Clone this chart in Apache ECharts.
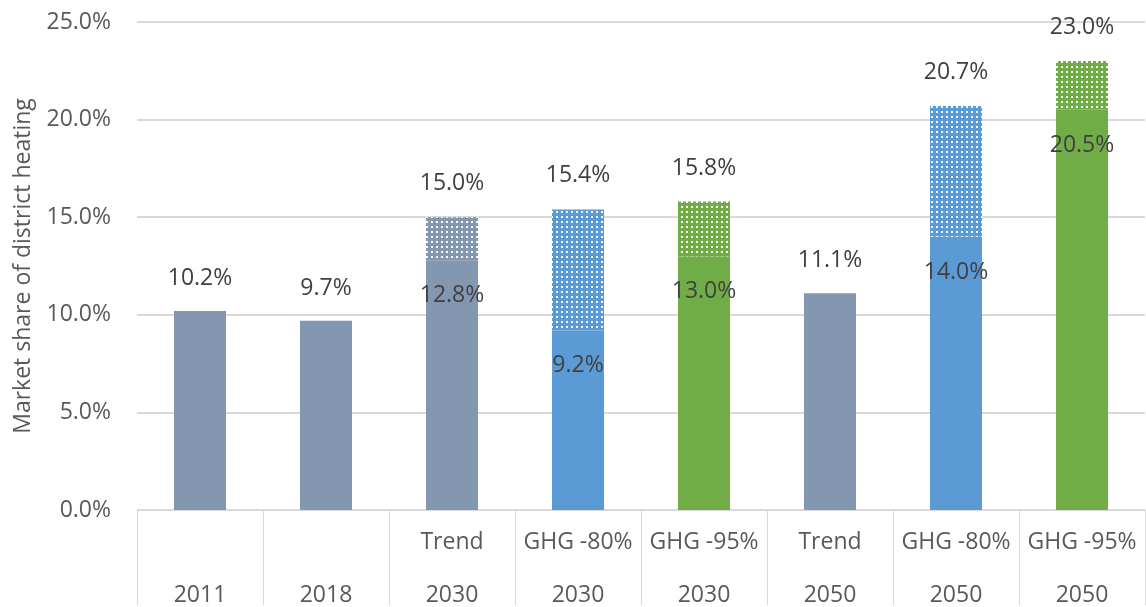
<!DOCTYPE html>
<html><head><meta charset="utf-8">
<script src="https://cdn.jsdelivr.net/npm/echarts@6/dist/echarts.min.js"></script>
<style>html,body{margin:0;padding:0;background:#fff}#c{width:1146px;height:607px}</style>
</head><body><div id="c"></div>
<script>
const scenarios = ['', '', 'Trend', 'GHG -80%', 'GHG -95%', 'Trend', 'GHG -80%', 'GHG -95%'];
const years = ['2011', '2018', '2030', '2030', '2030', '2050', '2050', '2050'];
const baseValues = [10.2, 9.7, 12.8, 9.2, 13.0, 11.1, 14.0, 20.5];
const totalValues = [10.2, 9.7, 15.0, 15.4, 15.8, 11.1, 20.7, 23.0];
const yTicks = [0, 5, 10, 15, 20, 25];

const palette = { '': '#8497B0', 'Trend': '#8497B0', 'GHG -80%': '#5B9BD5', 'GHG -95%': '#70AD47' };
function dotted(color) {
  const c = document.createElement('canvas');
  c.width = 5; c.height = 5;
  const g = c.getContext('2d');
  g.fillStyle = color; g.fillRect(0, 0, 5, 5);
  g.fillStyle = 'rgba(255,255,255,0.95)'; g.fillRect(1, 1, 2, 2);
  return { image: c, repeat: 'repeat' };
}
const FONT = '"Open Sans", sans-serif';
const FS = 23;
const labelStyle = { color: '#404040', fontSize: FS, fontFamily: FONT };
const fmt = v => v.toFixed(1) + '%';

const baseData = baseValues.map((v, i) => {
  const stacked = totalValues[i] > v;
  return {
    value: v,
    itemStyle: { color: palette[scenarios[i]] },
    label: Object.assign({ show: true, position: stacked ? 'insideTop' : 'top', distance: stacked ? 24 : 21, formatter: () => fmt(v) }, labelStyle)
  };
});
const topData = totalValues.map((t, i) => {
  const d = t - baseValues[i];
  if (d <= 0) return { value: '-' };
  return {
    value: d,
    itemStyle: { color: dotted(palette[scenarios[i]]) },
    label: Object.assign({ show: true, position: 'top', distance: 22, formatter: () => fmt(t) }, labelStyle)
  };
});

const chart = echarts.init(document.getElementById('c'), null, { renderer: 'canvas' });
chart.setOption({
  animation: false,
  grid: { left: 137, right: 1, top: 22, bottom: 95 },
  xAxis: [
    {
      type: 'category', data: scenarios, position: 'bottom',
      axisLine: { show: true, lineStyle: { color: '#D9D9D9', width: 1 } },
      axisTick: { show: true, length: 95, interval: 0, lineStyle: { color: '#D9D9D9' } },
      axisLabel: { interval: 0, margin: 21, color: '#595959', fontSize: FS, fontFamily: FONT }
    },
    {
      type: 'category', data: years, position: 'bottom',
      axisLine: { show: false }, axisTick: { show: false },
      axisLabel: { interval: 0, margin: 74, color: '#595959', fontSize: FS, fontFamily: FONT }
    }
  ],
  yAxis: {
    type: 'value', min: yTicks[0], max: yTicks[yTicks.length - 1], interval: 5,
    name: 'Market share of district heating', nameLocation: 'middle', nameGap: 102,
    nameTextStyle: { color: '#595959', fontSize: FS, fontFamily: FONT },
    axisLine: { show: false }, axisTick: { show: false },
    axisLabel: { margin: 26, color: '#595959', fontSize: FS, fontFamily: FONT, formatter: v => v.toFixed(1) + '%' },
    splitLine: { lineStyle: { color: '#D9D9D9', width: 2 } }
  },
  series: [
    { type: 'bar', stack: 's', barWidth: 52, xAxisIndex: 0, data: baseData },
    { type: 'bar', stack: 's', barWidth: 52, xAxisIndex: 0, data: topData }
  ]
});
</script></body></html>
